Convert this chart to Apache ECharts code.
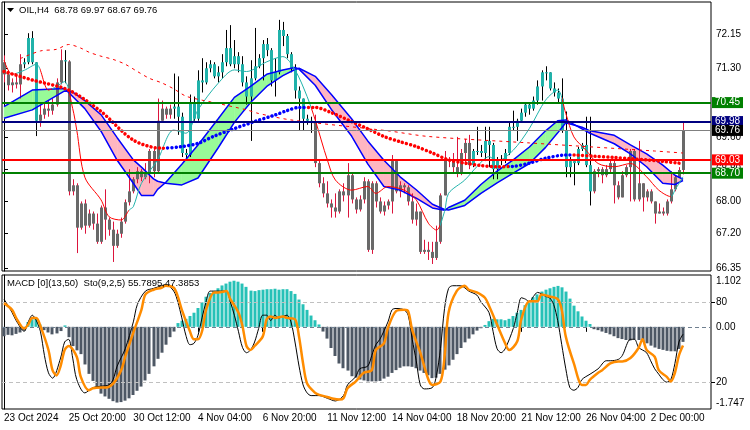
<!DOCTYPE html>
<html>
<head>
<meta charset="utf-8">
<title>OIL,H4</title>
<script src="https://cdn.jsdelivr.net/npm/echarts@6/dist/echarts.min.js"></script>
<style>
  html, body { margin: 0; padding: 0; background: #fff; }
  #chart { width: 750px; height: 430px; }
</style>
</head>
<body>
<div id="chart"></div>
<script>
// ---------- data ----------
const symbol = 'OIL,H4';
const lastQuote = [68.78, 69.97, 68.67, 69.76];
const macdTitle = 'MACD [0](13,50)  Sto(9,2,5) 55.7895,47.3853';

// x axis: one label every 16 H4 bars
const timeLabels = ['23 Oct 2024', '25 Oct 20:00', '30 Oct 12:00', '4 Nov 04:00', '6 Nov 20:00',
  '11 Nov 12:00', '14 Nov 04:00', '18 Nov 20:00', '21 Nov 12:00', '26 Nov 04:00', '2 Dec 00:00'];
const labelStep = 16;

const priceTicks = [72.15, 71.30, 70.45, 69.60, 68.80, 68.00, 67.20, 66.35];
const levels = [70.45, 69.98, 69.76, 69.03, 68.70];
const macdMax = 1.102, macdMin = -1.747;
const stochLevels = [80, 20];

const openP = [71.45, 71.15, 70.88, 70.95, 70.90, 71.40, 71.45, 72.05, 71.45, 70.00,
  70.15, 70.30, 70.25, 70.40, 70.95, 71.50, 71.47, 68.25, 68.40, 67.35,
  67.95, 67.40, 67.70, 67.45, 67.00, 67.85, 67.55, 67.30, 66.90, 67.20,
  67.50, 67.98, 68.25, 68.55, 68.75, 68.60, 68.70, 69.25, 68.75, 70.00,
  70.30, 70.15, 70.30, 70.35, 70.10, 69.20, 69.15, 70.45, 70.05, 71.00,
  70.95, 71.30, 71.40, 71.10, 71.20, 71.45, 71.80, 71.40, 71.60, 71.40,
  70.95, 70.60, 71.05, 71.35, 71.55, 71.90, 71.75, 71.00, 71.20, 72.25,
  72.10, 71.65, 71.30, 70.75, 70.55, 70.05, 70.00, 69.95, 68.95, 68.45,
  68.20, 67.95, 67.85, 67.75, 68.25, 68.15, 68.65, 68.05, 67.80, 68.05,
  68.50, 66.80, 68.45, 68.00, 67.75, 67.90, 68.00, 69.00, 68.25, 68.40,
  68.35, 68.00, 67.55, 67.75, 66.75, 66.80, 66.75, 66.60, 67.00, 68.15,
  69.05, 69.00, 68.85, 68.70, 69.20, 69.45, 68.90, 69.25, 69.25, 69.20,
  69.50, 69.40, 68.80, 69.00, 69.05, 69.20, 69.85, 69.85, 70.00, 70.20,
  70.40, 70.30, 70.50, 70.85, 71.20, 71.20, 70.80, 70.70, 70.55, 69.75,
  68.85, 69.00, 68.95, 69.30, 69.40, 68.90, 68.25, 68.75, 68.80, 68.65,
  68.80, 68.95, 68.40, 68.10, 68.65, 68.85, 69.25, 68.05, 68.45, 68.10,
  68.25, 68.00, 67.70, 67.75, 67.70, 68.00, 68.30, 68.60, 68.78];
const highP = [71.62, 71.25, 71.05, 71.12, 71.65, 71.55, 72.17, 72.22, 71.45, 70.40,
  70.45, 70.50, 70.55, 71.05, 71.77, 71.75, 71.50, 68.55, 68.45, 68.00,
  68.05, 67.80, 67.75, 67.70, 67.90, 68.30, 67.60, 67.50, 67.30, 67.60,
  68.05, 68.80, 68.60, 68.85, 68.80, 68.95, 69.30, 69.30, 70.55, 70.50,
  70.35, 70.40, 71.17, 71.10, 70.20, 69.30, 70.65, 70.60, 71.25, 71.55,
  71.45, 71.50, 71.45, 71.35, 71.65, 72.25, 72.37, 72.00, 71.70, 71.60,
  71.10, 71.50, 72.30, 71.65, 72.00, 72.05, 71.80, 71.55, 72.50, 72.45,
  72.15, 71.70, 71.40, 70.85, 70.55, 70.15, 70.10, 70.15, 69.05, 68.60,
  68.50, 68.05, 68.20, 68.30, 68.45, 68.95, 68.70, 68.10, 68.15, 68.60,
  68.55, 68.50, 68.50, 68.10, 68.00, 68.05, 69.15, 69.00, 68.50, 68.45,
  68.40, 68.20, 67.95, 67.75, 67.05, 67.00, 67.00, 67.40, 68.20, 69.25,
  69.10, 69.20, 69.60, 69.30, 69.55, 69.65, 69.30, 69.85, 69.40, 69.85,
  69.85, 69.45, 69.10, 69.15, 69.30, 69.95, 70.25, 70.05, 70.30, 70.45,
  70.45, 70.60, 71.00, 71.25, 71.35, 71.20, 70.95, 70.80, 71.05, 70.23,
  69.10, 69.05, 69.35, 69.45, 70.10, 70.10, 68.80, 68.85, 68.85, 68.90,
  69.05, 69.05, 68.50, 68.75, 68.90, 69.30, 69.30, 69.50, 68.45, 68.30,
  68.30, 68.00, 67.95, 67.85, 68.05, 68.75, 68.65, 68.85, 69.97];
const lowP = [70.95, 70.75, 70.70, 70.80, 70.55, 71.30, 71.40, 71.40, 69.62, 69.85,
  70.05, 70.10, 70.15, 70.35, 70.90, 70.93, 68.15, 68.15, 66.72, 67.30,
  67.20, 67.35, 67.30, 66.95, 66.95, 67.05, 67.15, 66.50, 66.85, 67.10,
  67.45, 67.90, 68.20, 68.45, 68.50, 68.55, 68.45, 68.60, 68.70, 70.00,
  70.05, 70.05, 70.05, 69.65, 69.10, 69.05, 69.10, 70.00, 70.00, 70.70,
  70.90, 71.20, 71.05, 70.95, 71.05, 71.35, 71.35, 71.30, 71.20, 70.85,
  70.40, 69.50, 71.00, 71.30, 71.00, 71.60, 70.85, 70.60, 71.15, 71.85,
  71.55, 71.20, 70.55, 69.75, 69.75, 69.90, 69.70, 68.85, 68.35, 68.10,
  67.85, 67.60, 67.60, 67.70, 68.00, 67.60, 67.95, 67.70, 67.75, 67.95,
  66.75, 66.70, 67.85, 67.70, 67.65, 67.80, 67.70, 68.20, 68.10, 68.20,
  67.90, 67.45, 67.40, 66.70, 66.70, 66.55, 66.45, 66.55, 66.95, 68.15,
  68.85, 68.70, 68.60, 68.65, 68.90, 68.80, 68.85, 69.15, 69.10, 69.00,
  68.85, 68.55, 68.55, 68.90, 68.95, 69.15, 69.75, 69.50, 69.95, 70.10,
  70.15, 70.25, 70.40, 70.50, 71.00, 70.75, 70.60, 70.45, 69.70, 68.60,
  68.60, 68.40, 68.90, 69.25, 68.85, 67.90, 68.20, 68.60, 68.45, 68.60,
  68.70, 67.95, 68.05, 68.10, 68.60, 68.00, 68.00, 68.00, 67.75, 68.00,
  67.95, 67.45, 67.70, 67.65, 67.65, 67.95, 68.25, 68.60, 68.67];
const closeP = [71.15, 70.88, 70.95, 70.90, 71.40, 71.45, 72.05, 71.45, 70.00, 70.15,
  70.30, 70.25, 70.40, 70.95, 71.50, 71.47, 68.25, 68.40, 67.35, 67.95,
  67.40, 67.70, 67.45, 67.00, 67.85, 67.55, 67.30, 66.90, 67.20, 67.50,
  67.98, 68.25, 68.55, 68.75, 68.60, 68.70, 69.25, 68.75, 70.00, 70.30,
  70.15, 70.30, 70.35, 70.10, 69.20, 69.15, 70.45, 70.05, 71.00, 70.95,
  71.30, 71.40, 71.10, 71.20, 71.45, 71.80, 71.40, 71.60, 71.40, 70.95,
  70.60, 71.05, 71.35, 71.55, 71.90, 71.75, 71.00, 71.20, 72.25, 72.10,
  71.65, 71.30, 70.75, 70.55, 70.05, 70.00, 69.95, 68.95, 68.45, 68.20,
  67.95, 67.85, 67.75, 68.25, 68.15, 68.65, 68.05, 67.80, 68.05, 68.50,
  66.80, 68.45, 68.00, 67.75, 67.90, 68.00, 69.00, 68.25, 68.40, 68.35,
  68.00, 67.55, 67.75, 66.75, 66.80, 66.75, 66.60, 67.00, 68.15, 69.05,
  69.00, 68.85, 68.70, 69.20, 69.45, 68.90, 69.25, 69.25, 69.20, 69.50,
  69.40, 68.80, 69.00, 69.05, 69.20, 69.85, 69.85, 70.00, 70.20, 70.40,
  70.30, 70.50, 70.85, 71.20, 71.20, 70.80, 70.70, 70.55, 69.75, 68.85,
  69.00, 68.95, 69.30, 69.40, 68.90, 68.25, 68.75, 68.80, 68.65, 68.80,
  68.95, 68.40, 68.10, 68.65, 68.85, 69.25, 68.05, 68.45, 68.10, 68.25,
  68.00, 67.70, 67.75, 67.70, 68.00, 68.30, 68.60, 68.78, 69.76];
// bar ranges drawn in the "up" colours (teal body, black wick)
const candleUpRanges = [[5, 8], [15, 15], [42, 76], [116, 145]];

// two-line band (fast / slow) sampled at these bars
const bandIdx = [0, 7, 15, 17, 20, 24, 28, 32, 34, 37, 38, 40, 44, 48, 53, 57, 61, 65, 69, 72, 73,
  77, 81, 86, 90, 94, 98, 102, 106, 109, 110, 114, 118, 122, 126, 130, 134, 137, 139, 143, 145,
  151, 155, 159, 163, 166, 168];
const bandFast = [70.35, 70.76, 70.80, 70.60, 70.30, 69.74, 69.02, 68.45, 68.15, 68.15, 68.30, 68.47,
  68.92, 69.40, 70.05, 70.58, 70.85, 71.15, 71.26, 71.32, 71.28, 70.88, 70.28, 69.62, 68.93, 68.37,
  68.28, 68.08, 67.84, 67.78, 67.85, 68.03, 68.42, 68.75, 69.03, 69.35, 69.75, 70.00, 70.02, 69.80,
  69.69, 69.43, 69.18, 68.86, 68.45, 68.42, 68.52];
const bandSlow = [70.06, 70.27, 70.74, 70.71, 70.50, 70.15, 69.58, 69.03, 68.85, 68.56, 68.50, 68.45,
  68.41, 68.58, 69.33, 69.96, 70.45, 70.85, 71.12, 71.27, 71.30, 71.10, 70.65, 70.05, 69.50, 69.02,
  68.61, 68.29, 67.93, 67.80, 67.79, 67.90, 68.20, 68.46, 68.70, 68.94, 69.34, 69.70, 69.95, 69.84,
  69.75, 69.64, 69.40, 69.18, 68.90, 68.65, 68.55];

// fast MA (teal while rising, red while falling)
const fastMa = [[0, 71.50], [2, 71.15], [5, 71.25], [8, 71.40], [11, 70.76], [13, 70.85], [15, 70.97],
  [17, 70.30], [18, 69.77], [20, 68.60], [24, 68.04], [26, 67.62], [29, 67.54], [31, 67.79], [32, 67.87],
  [34, 68.45], [38, 69.03], [42, 69.77], [45, 69.69], [48, 70.27], [53, 70.93], [57, 71.26], [60, 71.22],
  [65, 71.46], [69, 71.59], [72, 71.26], [75, 70.60], [77, 70.02], [80, 69.03], [82, 68.53], [86, 68.28],
  [90, 68.37], [92, 68.20], [95, 68.37], [99, 68.28], [102, 68.04], [105, 67.46], [107, 67.29],
  [109, 67.75], [110, 68.20], [114, 68.53], [117, 68.86], [120, 69.11], [122, 69.00], [126, 69.27],
  [130, 69.81], [134, 70.51], [137, 70.76], [139, 70.18], [141, 69.60], [144, 69.27], [147, 68.94],
  [151, 68.86], [155, 68.94], [159, 68.61], [162, 68.28], [165, 68.12], [166, 68.28], [168, 68.61]];
const fastRiseRanges = [[3, 9], [12, 16], [31, 76], [108, 138], [165, 169]];

// slow dotted MA (blue while rising, red while falling)
const slowMa = [[0, 71.22], [7, 71.01], [16, 70.76], [24, 70.23], [32, 69.52], [39, 69.32], [44, 69.36],
  [48, 69.44], [52, 69.62], [56, 69.77], [62, 69.98], [67, 70.14], [70, 70.25], [73, 70.33], [77, 70.33],
  [81, 70.20], [86, 69.98], [90, 69.80], [94, 69.61], [98, 69.48], [102, 69.36], [106, 69.20],
  [110, 69.03], [114, 68.95], [118, 68.89], [122, 68.86], [126, 68.87], [130, 68.95], [134, 69.07],
  [139, 69.15], [141, 69.15], [146, 69.12], [151, 69.09], [155, 69.06], [159, 69.03], [163, 68.99],
  [167, 68.95], [168, 68.93]];
const slowRiseRanges = [[40, 75], [125, 140.5], [167.5, 169]];

// long dashed MA
const longMa = [[4, 71.54], [9, 71.73], [13, 71.77], [16, 71.89], [19, 71.80], [21, 71.70], [24, 71.60],
  [27, 71.52], [30, 71.40], [33, 71.22], [36, 71.05], [39, 70.94], [42, 70.79], [45, 70.61], [49, 70.51],
  [51, 70.47], [60, 70.27], [63, 70.18], [71, 70.02], [95, 69.75], [105, 69.61], [130, 69.45],
  [161, 69.25], [168, 69.20]];

// MACD histogram, one value per bar
const macdHist = [-0.20, -0.17, -0.18, -0.15, -0.12, -0.08, 0.10, 0.16, 0.17, 0.05,
  -0.07, -0.12, -0.16, -0.14, -0.09, 0.03, -0.22, -0.41, -0.50, -0.58,
  -0.80, -1.00, -1.15, -1.30, -1.42, -1.48, -1.53, -1.58, -1.61, -1.60,
  -1.57, -1.52, -1.45, -1.36, -1.27, -1.14, -1.00, -0.84, -0.68, -0.55,
  -0.38, -0.22, -0.10, 0.08, 0.13, 0.17, 0.23, 0.30, 0.40, 0.52,
  0.64, 0.72, 0.76, 0.82, 0.88, 0.92, 0.96, 0.98, 0.96, 0.92,
  0.85, 0.77, 0.76, 0.78, 0.79, 0.80, 0.80, 0.81, 0.79, 0.80,
  0.80, 0.76, 0.70, 0.58, 0.48, 0.36, 0.24, 0.14, 0.05, -0.10,
  -0.25, -0.45, -0.62, -0.78, -0.88, -0.93, -1.05, -1.08, -1.12, -1.14,
  -1.16, -1.16, -1.16, -1.15, -1.10, -1.06, -0.98, -0.92, -0.87, -0.84,
  -0.84, -0.85, -0.88, -0.93, -0.98, -1.03, -1.09, -1.08, -1.00, -0.91,
  -0.82, -0.70, -0.58, -0.45, -0.33, -0.25, -0.16, -0.08, -0.03, 0.04,
  0.12, 0.17, 0.16, 0.16, 0.14, 0.17, 0.23, 0.30, 0.36, 0.46,
  0.55, 0.63, 0.69, 0.75, 0.79, 0.82, 0.85, 0.87, 0.84, 0.75,
  0.60, 0.45, 0.33, 0.22, 0.13, 0.06, -0.05, -0.07, -0.10, -0.13,
  -0.16, -0.20, -0.24, -0.26, -0.28, -0.29, -0.27, -0.28, -0.31, -0.35,
  -0.40, -0.44, -0.47, -0.49, -0.51, -0.52, -0.52, -0.47, -0.32];

// stochastic main (black) and signal (orange)
const stochMain = [[0, 82], [2, 72], [3, 66], [5, 58], [6, 65], [7, 70], [8, 66], [9, 58], [10, 40], [11, 27],
  [12, 23], [14, 38], [15, 50], [16, 52], [17, 38], [18, 22], [20, 12], [22, 16], [24, 17], [26, 18],
  [27, 22], [28, 32], [30, 45], [32, 65], [33, 78], [35, 88], [37, 90], [39, 92], [40, 93], [42, 88],
  [43, 80], [44, 68], [45, 55], [46, 48], [47, 49], [48, 55], [49, 68], [50, 80], [51, 88], [53, 88],
  [55, 88], [56, 80], [57, 70], [58, 58], [59, 46], [60, 42], [61, 44], [62, 50], [63, 60], [64, 70],
  [65, 70], [66, 66], [67, 70], [68, 68], [70, 70], [71, 65], [72, 50], [73, 32], [74, 18], [75, 12],
  [76, 10], [78, 10], [80, 8], [82, 6], [84, 10], [85, 18], [87, 24], [88, 30], [90, 32], [91, 40],
  [92, 48], [93, 52], [95, 65], [96, 74], [97, 75], [99, 74], [100, 70], [101, 52], [102, 36], [103, 18],
  [104, 15], [106, 16], [107, 25], [108, 45], [109, 75], [110, 90], [111, 92], [113, 92], [115, 88],
  [117, 85], [118, 80], [120, 72], [121, 58], [122, 45], [123, 42], [124, 45], [126, 60], [127, 72],
  [128, 83], [129, 82], [130, 80], [131, 84], [132, 87], [133, 86], [134, 84], [135, 83], [136, 78],
  [137, 66], [138, 48], [139, 30], [140, 16], [141, 14], [142, 16], [143, 22], [145, 26], [147, 30],
  [149, 36], [150, 36], [152, 37], [153, 40], [155, 52], [156, 52], [157, 46], [158, 44], [159, 42],
  [160, 36], [161, 30], [162, 26], [163, 22], [164, 20], [165, 22], [166, 34], [167, 50], [168, 55.79]];
const stochSignal = [[0, 79], [2, 74], [3, 68], [5, 60], [6, 63], [7, 68], [8, 68], [9, 62], [11, 44], [12, 29],
  [13, 25], [14, 32], [15, 44], [16, 47], [18, 39], [19, 24], [21, 14], [22, 15.5], [24, 16], [25, 16],
  [27, 19], [29, 29], [30, 39], [32, 57], [34, 74], [35, 85.5], [37, 89], [39, 90.5], [40, 92], [42, 90.5],
  [43, 84], [44, 74], [46, 58], [47, 52], [48, 52], [49, 58], [50, 74], [52, 87], [53, 87], [55, 88],
  [56, 82], [58, 72], [59, 62], [60, 47], [61, 44], [62, 47], [64, 54], [65, 67], [66, 69], [67, 68],
  [69, 69], [70, 68], [72, 67], [73, 54], [74, 34], [75, 19], [77, 12], [78, 10.5], [80, 9], [81, 8],
  [83, 7], [84, 8], [85, 15.5], [87, 20.5], [89, 27], [91, 29], [92, 44], [94, 49], [95, 60.5], [97, 73],
  [99, 74], [100, 73], [101, 59], [103, 42], [105, 22], [106, 18], [108, 20.5], [109, 39], [110, 72],
  [112, 88], [114, 92], [115, 89], [117, 87], [119, 83], [120, 77], [122, 63], [124, 49], [125, 44],
  [127, 50.5], [128, 67], [130, 80.5], [132, 80.5], [133, 85.5], [135, 84], [137, 82], [138, 74],
  [139, 54], [141, 34], [143, 18], [144, 18], [145, 22], [147, 27], [148, 29], [150, 34], [152, 35.5],
  [153, 35.5], [155, 38], [157, 45.5], [158, 52], [159, 44], [161, 39], [162, 29], [164, 24],
  [165, 20.5], [166, 27], [167, 40], [168, 47.39]];

// ---------- drawing ----------
const FONT = 'Liberation Sans, Arial, sans-serif';
const TEAL = '#20b2aa', GRAY = '#696969', WICK_DN = '#dc143c';
const xMin = -0.495, xMax = 174.93;

const inRanges = (i, ranges) => ranges.some(r => i >= r[0] && i <= r[1]);
function piecesFor(ranges, onColor, offColor) {
  const pieces = [];
  let start = -10;
  ranges.forEach(r => {
    pieces.push({ gte: start, lt: r[0], color: offColor });
    pieces.push({ gte: r[0], lt: r[1], color: onColor });
    start = r[1];
  });
  pieces.push({ gte: start, lte: 200, color: offColor });
  return pieces;
}

const candleData = closeP.map((c, i) => [i, openP[i], highP[i], lowP[i], c, inRanges(i, candleUpRanges) ? 1 : 0]);
const bandData = bandIdx.map((x, k) => [x, bandFast[k], bandSlow[k]]);
const histData = macdHist.map((v, i) => [i, v]);

function renderCandle(params, api) {
  const i = api.value(0);
  const up = api.value(5) === 1;
  const pO = api.coord([i, api.value(1)]);
  const pH = api.coord([i, api.value(2)]);
  const pL = api.coord([i, api.value(3)]);
  const pC = api.coord([i, api.value(4)]);
  const x = Math.round(pO[0]) + 0.5;
  const top = Math.min(pO[1], pC[1]);
  const h = Math.max(Math.abs(pO[1] - pC[1]), 1);
  return {
    type: 'group',
    children: [
      { type: 'line', shape: { x1: x, y1: pH[1], x2: x, y2: pL[1] },
        style: { stroke: up ? '#000' : WICK_DN, lineWidth: 1 } },
      { type: 'rect', shape: { x: x - 1.5, y: top, width: 3, height: h },
        style: { fill: up ? TEAL : GRAY } }
    ]
  };
}

function renderBand(params, api) {
  const k = params.dataIndex;
  if (k >= bandIdx.length - 1) return null;
  const i0 = bandIdx[k], i1 = bandIdx[k + 1];
  const f0 = bandFast[k], f1 = bandFast[k + 1], s0 = bandSlow[k], s1 = bandSlow[k + 1];
  const d0 = f0 - s0, d1 = f1 - s1;
  const pt = (i, v) => api.coord([i, v]);
  const polys = [];
  if (d0 * d1 >= 0) {
    polys.push({ pts: [pt(i0, f0), pt(i1, f1), pt(i1, s1), pt(i0, s0)], up: d0 + d1 >= 0 });
  } else {
    const t = d0 / (d0 - d1);
    const ic = i0 + t * (i1 - i0), vc = f0 + t * (f1 - f0);
    polys.push({ pts: [pt(i0, f0), pt(ic, vc), pt(i0, s0)], up: d0 > 0 });
    polys.push({ pts: [pt(ic, vc), pt(i1, f1), pt(i1, s1)], up: d1 > 0 });
  }
  return {
    type: 'group',
    children: polys.map(p => ({
      type: 'polygon', shape: { points: p.pts },
      style: { fill: p.up ? '#98fb98' : '#ffb6c1', stroke: p.up ? '#98fb98' : '#ffb6c1', lineWidth: 0.5 }
    }))
  };
}

function renderHist(params, api) {
  const i = api.value(0), v = api.value(1);
  const p = api.coord([i, v]);
  const z = api.coord([i, 0]);
  const x = Math.round(p[0]) - 1.5;
  return {
    type: 'rect',
    shape: { x: x, y: Math.min(p[1], z[1]), width: 3, height: Math.max(Math.abs(p[1] - z[1]), 1) },
    style: { fill: v >= 0 ? '#26c1b7' : '#4d5764' }
  };
}

const levelStyle = [
  { line: '#008000', box: '#008000', width: 2 },
  { line: '#000080', box: '#000080', width: 2 },
  { line: '#808080', box: '#000000', width: 1 },
  { line: '#ff0000', box: '#ff0000', width: 2 },
  { line: '#008000', box: '#008000', width: 2 }
];

const chart = echarts.init(document.getElementById('chart'), null, { width: 750, height: 430 });

chart.setOption({
  animation: false,
  backgroundColor: '#fff',
  textStyle: { fontFamily: FONT },
  grid: [
    { left: 2, top: 2, width: 709, height: 269, show: true, borderColor: '#000', borderWidth: 1, backgroundColor: '#fff' },
    { left: 2, top: 275, width: 709, height: 134, show: true, borderColor: '#000', borderWidth: 1, backgroundColor: '#fff' }
  ],
  xAxis: [
    { type: 'value', gridIndex: 0, min: xMin, max: xMax, axisLine: { show: false }, axisTick: { show: false },
      axisLabel: { show: false }, splitLine: { show: false } },
    { type: 'value', gridIndex: 1, min: xMin, max: xMax, axisLine: { show: false },
      axisTick: { show: true, length: 5, lineStyle: { color: '#000' }, customValues: timeLabels.map((t, k) => k * labelStep) },
      axisLabel: { show: true, customValues: timeLabels.map((t, k) => k * labelStep), align: 'left', margin: 4,
        color: '#000', fontSize: 10, fontFamily: FONT,
        formatter: v => timeLabels[Math.round(v / labelStep)] || '' },
      splitLine: { show: false } }
  ],
  yAxis: [
    { type: 'value', gridIndex: 0, position: 'right', min: 66.276, max: 72.943, scale: true,
      axisLine: { show: true, lineStyle: { color: '#000' } },
      axisTick: { show: true, length: 4, inside: false, lineStyle: { color: '#000' }, customValues: priceTicks },
      axisLabel: { show: true, customValues: priceTicks, margin: 5, color: '#000', fontSize: 10, fontFamily: FONT,
        formatter: v => v.toFixed(2) },
      splitLine: { show: false } },
    { type: 'value', gridIndex: 1, position: 'right', min: macdMin, max: macdMax,
      axisLine: { show: true, lineStyle: { color: '#000' } },
      axisTick: { show: true, length: 4, lineStyle: { color: '#000' }, customValues: [0] },
      axisLabel: { show: true, customValues: [macdMax, 0, macdMin], margin: 5, color: '#000', fontSize: 10, fontFamily: FONT,
        formatter: v => v === macdMax ? '{t|' + v.toFixed(3) + '}' : (v === macdMin ? '{b|' + v.toFixed(3) + '}' : v.toFixed(2)),
        rich: { t: { padding: [12, 0, 0, 0], fontSize: 10, fontFamily: FONT, color: '#000' },
                b: { padding: [0, 0, 12, 0], fontSize: 10, fontFamily: FONT, color: '#000' } } },
      splitLine: { show: false } },
    { type: 'value', gridIndex: 1, position: 'right', min: 0, max: 100,
      axisLine: { show: false },
      axisTick: { show: true, length: 4, lineStyle: { color: '#000' }, customValues: stochLevels },
      axisLabel: { show: true, customValues: stochLevels, margin: 5, color: '#000', fontSize: 10, fontFamily: FONT },
      splitLine: { show: false } }
  ],
  visualMap: [
    { type: 'piecewise', show: false, seriesIndex: 4, dimension: 0, pieces: piecesFor(fastRiseRanges, TEAL, '#ff0000') },
    { type: 'piecewise', show: false, seriesIndex: 6, dimension: 0, pieces: piecesFor(slowRiseRanges, '#0000ff', '#ff0000') }
  ],
  series: [
    { type: 'custom', name: 'band', xAxisIndex: 0, yAxisIndex: 0, renderItem: renderBand, data: bandData,
      encode: { x: 0, y: [1, 2] }, z: 1, silent: true, clip: true },
    { type: 'custom', name: 'price', xAxisIndex: 0, yAxisIndex: 0, renderItem: renderCandle, data: candleData,
      encode: { x: 0, y: [1, 2, 3, 4] }, z: 2, silent: true, clip: true },
    { type: 'line', name: 'bandFast', xAxisIndex: 0, yAxisIndex: 0, data: bandIdx.map((x, k) => [x, bandFast[k]]),
      showSymbol: false, lineStyle: { color: '#0000ff', width: 1.5 }, z: 3, silent: true },
    { type: 'line', name: 'bandSlow', xAxisIndex: 0, yAxisIndex: 0, data: bandIdx.map((x, k) => [x, bandSlow[k]]),
      showSymbol: false, lineStyle: { color: '#0000ff', width: 1.5 }, z: 3, silent: true },
    { type: 'line', name: 'fastMa', xAxisIndex: 0, yAxisIndex: 0, data: fastMa, smooth: 0.3,
      showSymbol: false, lineStyle: { width: 1 }, z: 3, silent: true },
    { type: 'line', name: 'longMa', xAxisIndex: 0, yAxisIndex: 0, data: longMa, smooth: 0.3,
      showSymbol: false, lineStyle: { color: '#ff0000', width: 1, type: [3, 4] }, z: 3, silent: true },
    { type: 'line', name: 'slowMa', xAxisIndex: 0, yAxisIndex: 0, data: slowMa, smooth: 0.3,
      showSymbol: false, lineStyle: { width: 3.5, type: [0.01, 4.2], cap: 'round' }, z: 4, silent: true },
    { type: 'line', name: 'levels', xAxisIndex: 0, yAxisIndex: 0, data: [], z: 6, silent: true,
      markLine: {
        symbol: 'none', silent: true, animation: false,
        data: levels.map((v, k) => ({
          yAxis: v,
          lineStyle: { color: levelStyle[k].line, width: levelStyle[k].width, type: 'solid' },
          label: { show: true, position: 'end', distance: 1, formatter: v.toFixed(2), color: '#fff',
            backgroundColor: levelStyle[k].box, padding: [1, 3, 0, 3], fontSize: 10, fontFamily: FONT }
        }))
      } },
    { type: 'custom', name: 'macd', xAxisIndex: 1, yAxisIndex: 1, renderItem: renderHist, data: histData,
      encode: { x: 0, y: 1 }, z: 2, silent: true },
    { type: 'line', name: 'macdZero', xAxisIndex: 1, yAxisIndex: 1, data: [], z: 3, silent: true,
      markLine: { symbol: 'none', silent: true, label: { show: false },
        data: [{ yAxis: 0 }], lineStyle: { color: '#708090', width: 1, type: [4, 3] } } },
    { type: 'line', name: 'stochMain', xAxisIndex: 1, yAxisIndex: 2, data: stochMain, smooth: 0.3,
      showSymbol: false, lineStyle: { color: '#000', width: 1 }, z: 4, silent: true,
      markLine: { symbol: 'none', silent: true, label: { show: false },
        data: stochLevels.map(v => ({ yAxis: v })), lineStyle: { color: '#c0c0c0', width: 1, type: [4, 3] } } },
    { type: 'line', name: 'stochSignal', xAxisIndex: 1, yAxisIndex: 2, data: stochSignal, smooth: 0.3,
      showSymbol: false, lineStyle: { color: '#ff8c00', width: 2.5 }, z: 5, silent: true }
  ],
  graphic: [
    { type: 'polygon', shape: { points: [[7, 8], [14, 8], [10.5, 12]] }, style: { fill: '#000' }, z: 100 },
    { type: 'text', x: 19, y: 10, z: 100,
      style: { text: symbol + '  ' + lastQuote.map(v => v.toFixed(2)).join(' '), fill: '#000',
        font: '9.5px ' + FONT, verticalAlign: 'middle' } },
    { type: 'text', x: 7, y: 283, z: 100,
      style: { text: macdTitle, fill: '#000', font: '9.5px ' + FONT, verticalAlign: 'middle' } }
  ]
});
</script>
</body>
</html>
